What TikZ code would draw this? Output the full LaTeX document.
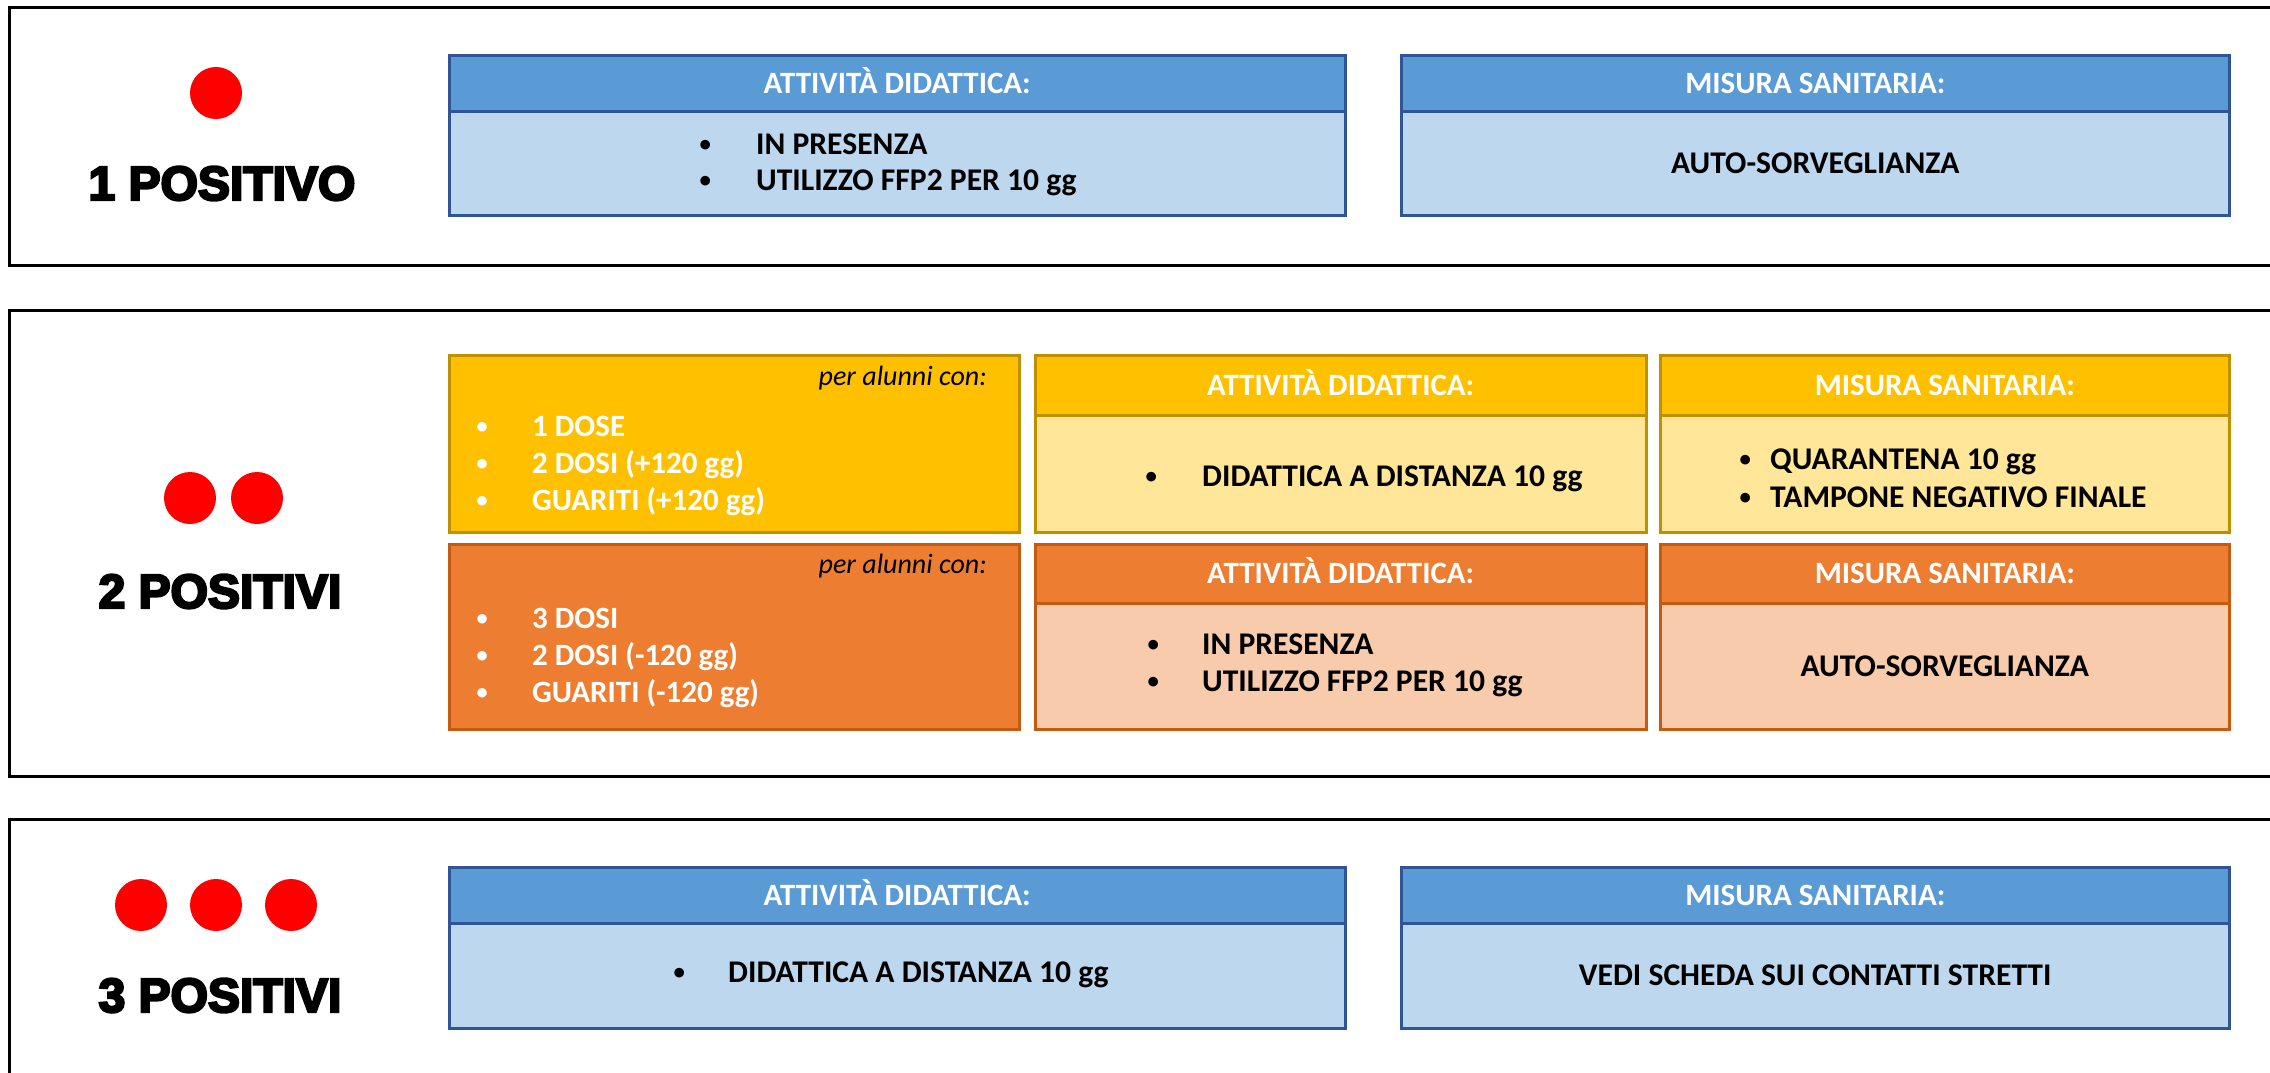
\documentclass[tikz,border=0pt]{standalone}
\usepackage{fontspec}
\usepackage{graphicx}
\setmainfont{Carlito}
\newfontfamily\heavyfont{Liberation Sans}[BoldFeatures={FakeBold=5}]
\definecolor{bH}{HTML}{5B9BD5}
\definecolor{bB}{HTML}{BDD7EE}
\definecolor{bL}{HTML}{2F5597}
\definecolor{yH}{HTML}{FFC000}
\definecolor{yB}{HTML}{FFE699}
\definecolor{yL}{HTML}{BF9000}
\definecolor{oH}{HTML}{ED7D31}
\definecolor{oB}{HTML}{F8CBAD}
\definecolor{oL}{HTML}{C55A11}
\newcommand\boxfont{\fontsize{31}{35}\selectfont\bfseries}
\newcommand\bodyfont{\fontsize{31.6}{35}\selectfont\bfseries}
\newcommand\smallbul{\raisebox{2.5pt}{\scalebox{0.72}{\textbullet}}}
\newcommand\bu[1]{\llap{\makebox[0pt]{\smallbul}\hspace{#1pt}}}
\tikzset{
  frame/.style={draw=black, line width=3pt},
  pbox/.style={draw, line width=2.5pt, inner sep=0pt, anchor=north west, font=\boxfont, text height=20pt, text depth=0pt, align=center},
  hd/.style={pbox, text=white},
  bd/.style={pbox, text=black, font=\bodyfont},
  blueH/.style={hd, fill=bH, draw=bL}, blueB/.style={bd, fill=bB, draw=bL},
  yelH/.style={hd, fill=yH, draw=yL}, yelB/.style={bd, fill=yB, draw=yL},
  orgH/.style={hd, fill=oH, draw=oL}, orgB/.style={bd, fill=oB, draw=oL},
  li/.style={anchor=base west, inner sep=0pt, font=\bodyfont},
  pa/.style={anchor=base east, inner sep=0pt, font=\fontsize{28}{30}\selectfont\itshape},
  reddot/.style={circle, fill=red, minimum size=52pt, inner sep=0pt},
  title/.style={anchor=base, inner sep=0pt, font=\heavyfont\bfseries\fontsize{48}{50}\selectfont},
}
\begin{document}
\begin{tikzpicture}[x=1pt,y=-1pt]
\useasboundingbox (0,0) rectangle (2270,1072);
\clip (0,0) rectangle (2270,1072);
% frames
\draw[frame] (9,7) rectangle (2300,265);
\draw[frame] (9,310) rectangle (2300,776);
\draw[frame] (9,819) rectangle (2300,1080);
% row 1
\node[reddot] (d11) at (216,93) {};
\node[title] (n1) at (222,200) {1 POSITIVO};
\node[blueH, minimum width=896pt, minimum height=56pt] (h1a) at (448,54) {ATTIVITÀ DIDATTICA:};
\node[blueB, minimum width=896pt, minimum height=104pt] (b1a) at (448,110) {};
\node[li] (t1a1) at (756,154) {\bu{51}IN PRESENZA};
\node[li] (t1a2) at (756,190) {\bu{51}UTILIZZO FFP2 PER 10 gg};
\node[blueH, minimum width=828pt, minimum height=56pt] (h1b) at (1400,54) {MISURA SANITARIA:};
\node[blueB, minimum width=828pt, minimum height=104pt] (b1b) at (1400,110) {AUTO-SORVEGLIANZA};
% row 2
\node[reddot] (d21) at (190,498) {};
\node[reddot] (d22) at (257,498) {};
\node[title] (n2) at (220,608) {2 POSITIVI};
\node[pbox, fill=yH, draw=yL, minimum width=570pt, minimum height=177pt] (l2y) at (448,354) {};
\node[pa] (py) at (987,385) {per alunni con:};
\node[li, text=white, font=\boxfont] (y1) at (532,436) {\bu{50}1 DOSE};
\node[li, text=white, font=\boxfont] (y2) at (532,473) {\bu{50}2 DOSI (+120 gg)};
\node[li, text=white, font=\boxfont] (y3) at (532,510) {\bu{50}GUARITI (+120 gg)};
\node[pbox, fill=oH, draw=oL, minimum width=570pt, minimum height=185pt] (l2o) at (448,543) {};
\node[pa] (po) at (987,573) {per alunni con:};
\node[li, text=white, font=\boxfont] (o1) at (532,628) {\bu{50}3 DOSI};
\node[li, text=white, font=\boxfont] (o2) at (532,665) {\bu{50}2 DOSI (-120 gg)};
\node[li, text=white, font=\boxfont] (o3) at (532,702) {\bu{50}GUARITI (-120 gg)};
\node[yelH, minimum width=611pt, minimum height=60pt] (h2my) at (1034,354) {ATTIVITÀ DIDATTICA:};
\node[yelB, minimum width=611pt, minimum height=117pt] (b2my) at (1034,414) {};
\node[li] (t2my) at (1202,486) {\bu{51}DIDATTICA A DISTANZA 10 gg};
\node[orgH, minimum width=611pt, minimum height=59pt] (h2mo) at (1034,543) {ATTIVITÀ DIDATTICA:};
\node[orgB, minimum width=611pt, minimum height=126pt] (b2mo) at (1034,602) {};
\node[li] (t2mo1) at (1202,654) {\bu{49}IN PRESENZA};
\node[li] (t2mo2) at (1202,691) {\bu{49}UTILIZZO FFP2 PER 10 gg};
\node[yelH, minimum width=569pt, minimum height=60pt] (h2ry) at (1659,354) {MISURA SANITARIA:};
\node[yelB, minimum width=569pt, minimum height=117pt] (b2ry) at (1659,414) {};
\node[li] (t2ry1) at (1770,469) {\bu{25}QUARANTENA 10 gg};
\node[li] (t2ry2) at (1770,507) {\bu{25}TAMPONE NEGATIVO FINALE};
\node[orgH, minimum width=569pt, minimum height=59pt] (h2ro) at (1659,543) {MISURA SANITARIA:};
\node[orgB, minimum width=569pt, minimum height=126pt] (b2ro) at (1659,602) {AUTO-SORVEGLIANZA};
% row 3
\node[reddot] (d31) at (141,905) {};
\node[reddot] (d32) at (216,905) {};
\node[reddot] (d33) at (291,905) {};
\node[title] (n3) at (220,1012) {3 POSITIVI};
\node[blueH, minimum width=896pt, minimum height=56pt] (h3a) at (448,866) {ATTIVITÀ DIDATTICA:};
\node[blueB, minimum width=896pt, minimum height=105pt] (b3a) at (448,922) {};
\node[li] (t3a) at (728,982) {\bu{49}DIDATTICA A DISTANZA 10 gg};
\node[blueH, minimum width=828pt, minimum height=56pt] (h3b) at (1400,866) {MISURA SANITARIA:};
\node[blueB, minimum width=828pt, minimum height=105pt] (b3b) at (1400,922) {VEDI SCHEDA SUI CONTATTI STRETTI};
\end{tikzpicture}
\end{document}
